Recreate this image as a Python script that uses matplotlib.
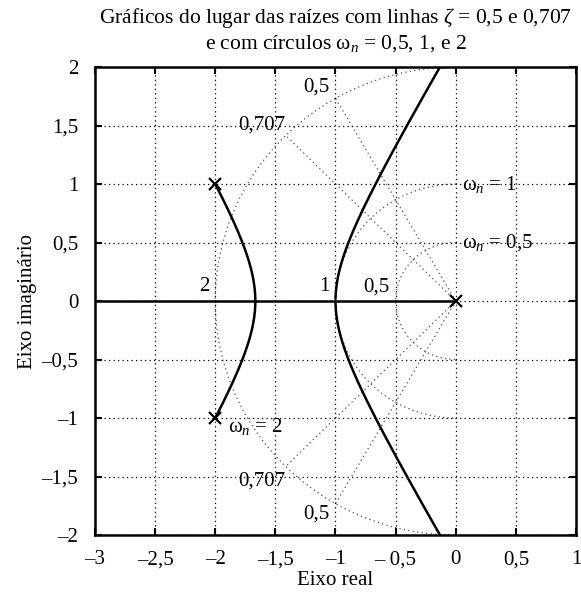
import numpy as np
import matplotlib
matplotlib.use("Agg")
import matplotlib.pyplot as plt

plt.rcParams["font.family"] = ["Liberation Serif", "DejaVu Serif"]
plt.rcParams["mathtext.fontset"] = "custom"
plt.rcParams["mathtext.rm"] = "Liberation Serif"
plt.rcParams["mathtext.it"] = "Liberation Serif:italic"

# open-loop poles of G(s) = K / (s (s^2 + 4s + 5))
poles = [0.0, -2.0 + 1.0j, -2.0 - 1.0j]
den = [1.0, 4.0, 5.0, 0.0]

zetas = [0.5, 0.707]
zeta_labels = ["0,5", "0,707"]
wn_values = [0.5, 1.0, 2.0]
wn_labels = ["0,5", "1", "2"]

xticks = [-3, -2.5, -2, -1.5, -1, -0.5, 0, 0.5, 1]
xtick_labels = ["–3", "–2,5", "–2", "–1,5", "–1", "– 0,5", "0", "0,5", "1"]
yticks = [-2, -1.5, -1, -0.5, 0, 0.5, 1, 1.5, 2]
ytick_labels = ["–2", "–1,5", "–1", "–0,5", "0", "0,5", "1", "1,5", "2"]

fig = plt.figure(figsize=(5.81, 5.93), dpi=100)
ax = fig.add_axes([0.1635, 0.0978, 0.8279, 0.7892])

dot = (0, (1, 2.6))
grey = "#505050"

# sgrid: damping lines and natural-frequency arcs
rmax = max(wn_values)
for z in zetas:
    ang = np.pi - np.arccos(z)
    for sgn in (1, -1):
        ax.plot([0, rmax * np.cos(ang)], [0, sgn * rmax * np.sin(ang)],
                ls=dot, lw=0.9, color=grey, zorder=1)
th = np.linspace(np.pi / 2, 3 * np.pi / 2, 300)
for r in wn_values:
    ax.plot(r * np.cos(th), r * np.sin(th), ls=dot, lw=0.9, color=grey, zorder=1)

# root locus
gains = np.concatenate([np.linspace(0, 2.5, 4000), np.linspace(2.5, 60, 4000)])
upper = []
for k in gains:
    p = np.array(den) + np.array([0, 0, 0, k])
    r = np.roots(p)
    c = r[r.imag > 1e-9]
    upper.append((k, c[0] if len(c) else np.nan))
kk = np.array([u[0] for u in upper])
ss = np.array([u[1] for u in upper])
for mask in (kk < 1.86, kk > 1.99):
    seg = ss[mask]
    seg = seg[~np.isnan(seg)]
    ax.plot(seg.real, seg.imag, color="k", lw=1.8, zorder=3)
    ax.plot(seg.real, -seg.imag, color="k", lw=1.8, zorder=3)
ax.plot([-3, 0], [0, 0], color="k", lw=1.8, zorder=3)

pr = np.array(poles)
ax.plot(pr.real, pr.imag, "x", color="k", ms=8, mew=1.6, zorder=4)

# labels on the grid lines
fs = 15
for r, lab in zip(wn_values, wn_labels):
    ax.text(-r - 0.05, 0.04, lab, fontsize=fs, ha="right", va="bottom")
ax.text(-1.05, 1.75, zeta_labels[0], fontsize=fs, ha="right", va="bottom")
ax.text(-1.42, 1.42, zeta_labels[1], fontsize=fs, ha="right", va="bottom")
ax.text(-1.42, -1.46, zeta_labels[1], fontsize=fs, ha="right", va="top")
ax.text(-1.05, -1.74, zeta_labels[0], fontsize=fs, ha="right", va="top")
ax.text(0.05, 1.0, r"$\mathrm{\omega}_n$ = 1", fontsize=fs, ha="left", va="center")
ax.text(0.05, 0.5, r"$\mathrm{\omega}_n$ = 0,5", fontsize=fs, ha="left", va="center")
ax.text(-1.89, -1.07, r"$\mathrm{\omega}_n$ = 2", fontsize=fs, ha="left", va="center")

ax.set_xlim(-3, 1)
ax.set_ylim(-2, 2)
ax.set_xticks(xticks)
ax.set_xticklabels(xtick_labels)
ax.set_yticks(yticks)
ax.set_yticklabels(ytick_labels)
ax.tick_params(direction="in", length=5, width=1.5, top=True, right=True,
               labelsize=fs)
ax.tick_params(axis="x", pad=11)
ax.tick_params(axis="y", pad=12)
ax.grid(True, ls=dot, lw=0.9, color="k")
for s in ax.spines.values():
    s.set_linewidth(1.8)

ax.set_xlabel("Eixo real", fontsize=fs, labelpad=1)
ax.set_ylabel("Eixo imaginário", fontsize=fs, labelpad=3)
ax.set_title("Gráficos do lugar das raízes com linhas $\\zeta$ = 0,5 e 0,707\n"
             "e com círculos $\\mathrm{\\omega}_n$ = 0,5, 1, e 2",
             fontsize=15.5, pad=13, linespacing=1.25)

fig.savefig("out.png", dpi=100)
